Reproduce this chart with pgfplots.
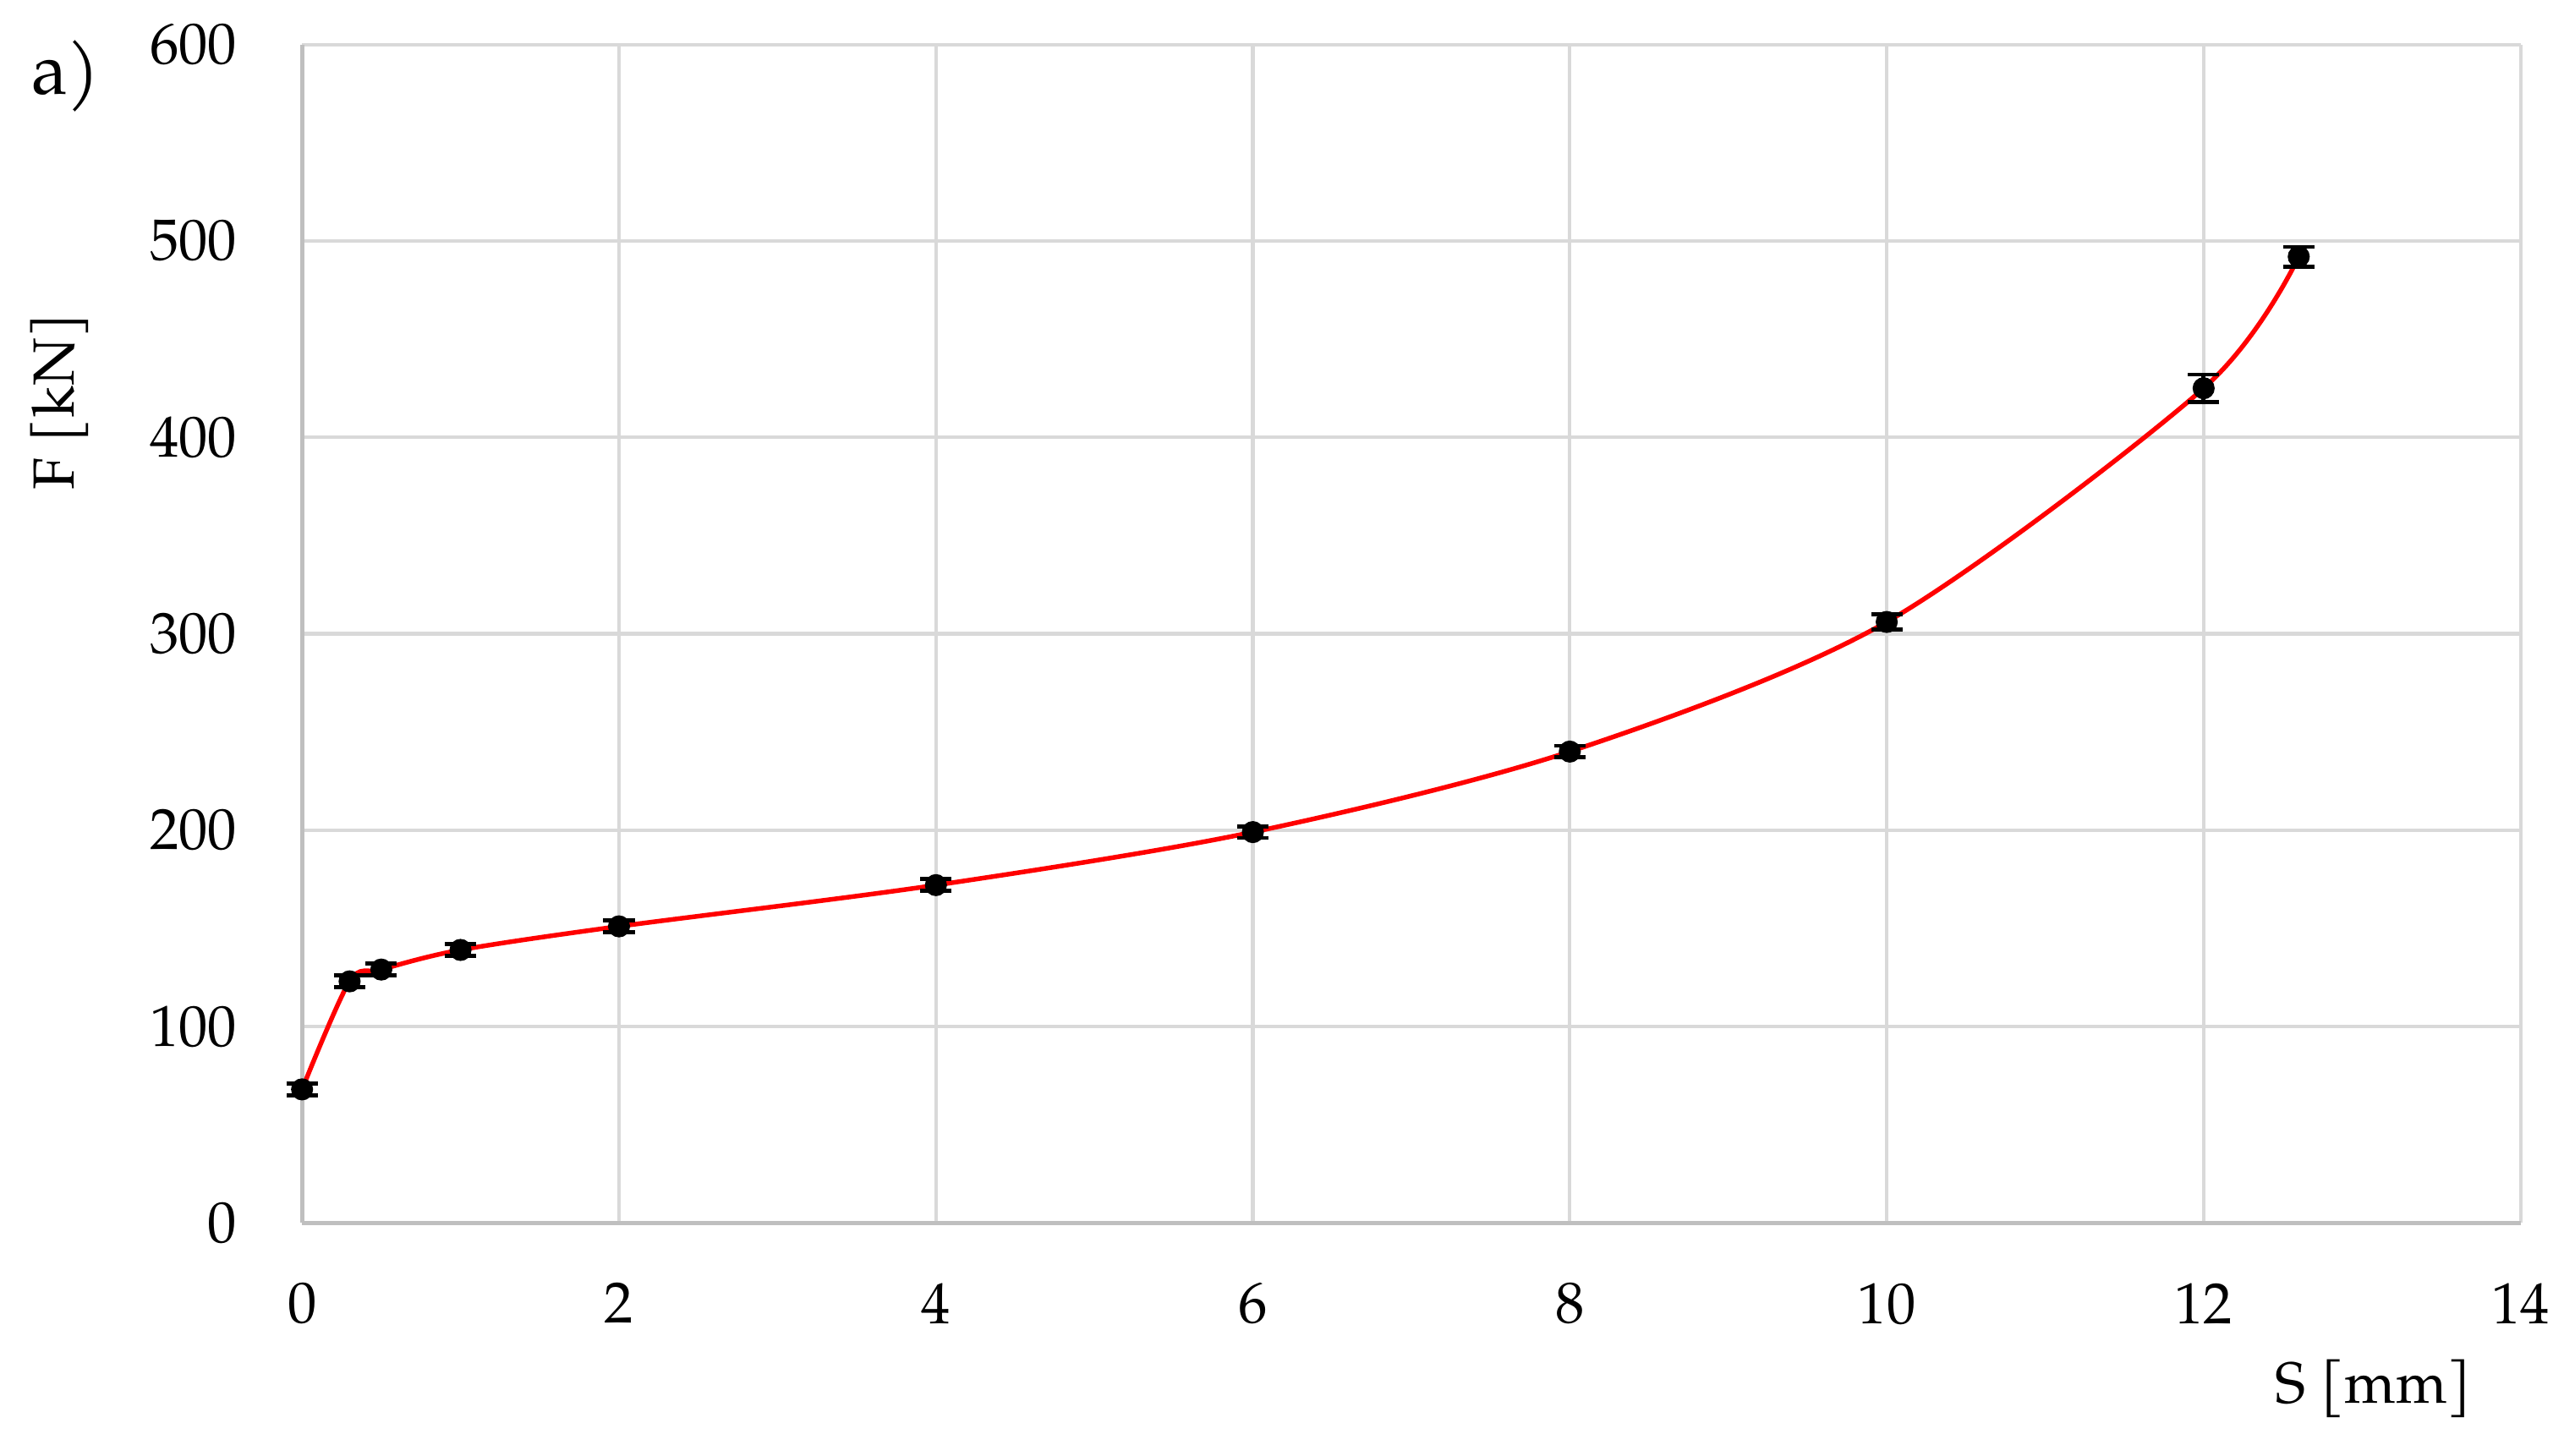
\documentclass[border=0pt]{standalone}
\usepackage{fontspec}
\setmainfont{TeX Gyre Pagella}
\usepackage{pgfplots}
\usepackage{pgfplotstable}
\pgfplotsset{compat=1.18}
\definecolor{gridgray}{HTML}{D9D9D9}
\definecolor{axisgray}{HTML}{BFBFBF}

% S [mm], F [kN], error
\pgfplotstableread{
x    y    e
0    68   3
0.3  123  3
0.5  129  3
1    139  3
2    151  3
4    172  3
6    199  3
8    240  3
10   306  4
12   425  7
12.6 492  5
}\data

\begin{document}
\begin{tikzpicture}[font=\fontsize{10}{12}\selectfont]
\begin{axis}[
    name=main,
    scale only axis,
    width=13.44cm, height=7.14cm,
    xmin=0, xmax=14, ymin=0, ymax=600,
    xtick={0,2,...,14}, ytick={0,100,...,600},
    axis x line*=bottom, axis y line*=left,
    axis line style={axisgray, line width=0.7pt},
    major tick length=0pt,
    grid=major,
    major grid style={gridgray, line width=0.6pt},
    /pgf/number format/assume math mode=true,
    yticklabel style={xshift=-0.27cm},
    xticklabel style={yshift=-0.24cm},
    clip=false,
]
\addplot[red, line width=0.8pt, smooth, tension=0.5] table[x=x, y=y] {\data};
\addplot[black, only marks, mark=*, mark size=1.7pt,
    error bars/.cd, y dir=both, y explicit,
    error mark options={rotate=90, mark size=2.7pt, line width=0.7pt, black},
    error bar style={line width=0.7pt, black}]
    table[x=x, y=y, y error=e] {\data};
\end{axis}
\path (main.south west) -- (main.north west) coordinate[pos=0.697] (ylab);
\node[rotate=90] at ([xshift=-1.47cm]ylab) {F [kN]};
\node[anchor=base east] at ([xshift=-0.17cm,yshift=-1.09cm]main.south east) {S [mm]};
\node[font=\fontsize{12.5}{14}\selectfont] at ([xshift=-1.43cm,yshift=-0.19cm]main.north west) {a)};
\path ([xshift=-1.83cm,yshift=-1.41cm]main.south west) rectangle ([xshift=0.33cm,yshift=0.27cm]main.north east);
\end{tikzpicture}
\end{document}
